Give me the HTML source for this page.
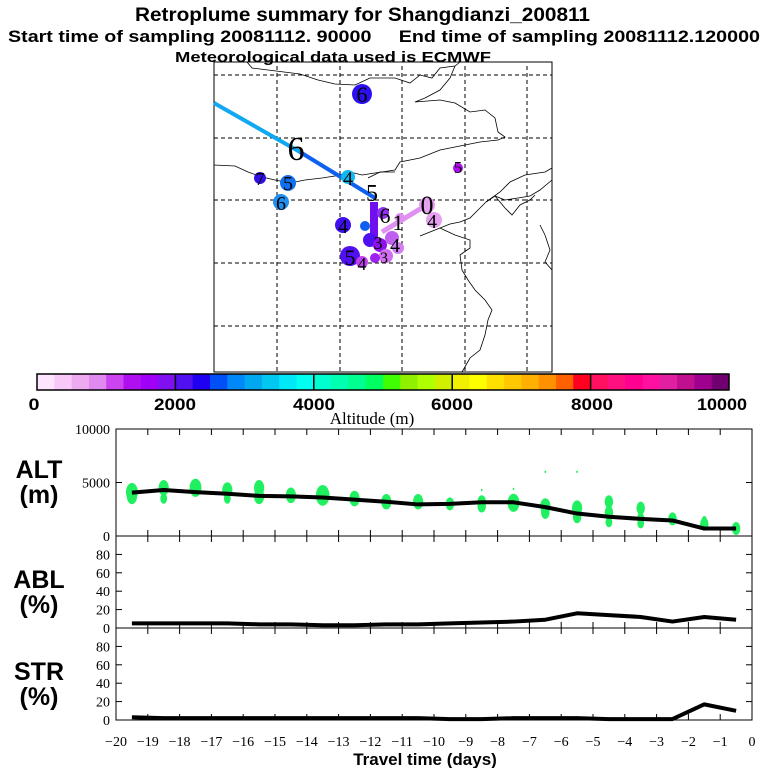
<!DOCTYPE html>
<html><head><meta charset="utf-8"><style>
html,body{margin:0;padding:0;background:#fff;width:768px;height:768px;overflow:hidden}
svg text{font-family:"Liberation Sans",sans-serif}
svg text.serif{font-family:"Liberation Serif",serif}
</style></head><body>
<svg id="chart" width="768" height="768" viewBox="0 0 768 768" xmlns="http://www.w3.org/2000/svg">
<g font-weight="bold" fill="#000">
<text x="135" y="21" font-size="19" textLength="455" lengthAdjust="spacingAndGlyphs">Retroplume summary for Shangdianzi_200811</text>
<text x="8" y="42" font-size="17" textLength="752" lengthAdjust="spacingAndGlyphs" xml:space="preserve">Start time of sampling 20081112. 90000     End time of sampling 20081112.120000</text>
<text x="175" y="62" font-size="15" textLength="316" lengthAdjust="spacingAndGlyphs">Meteorological data used is ECMWF</text>
</g>
<g id="map">
<rect x="214" y="62" width="338" height="310" fill="none" stroke="#000" stroke-width="1"/>
<g stroke="#000" stroke-dasharray="4,3" stroke-width="1">
<line x1="277" y1="66" x2="277" y2="372"/><line x1="340" y1="66" x2="340" y2="372"/><line x1="402" y1="66" x2="402" y2="372"/><line x1="465" y1="66" x2="465" y2="372"/><line x1="527" y1="66" x2="527" y2="372"/>
<line x1="214" y1="75" x2="552" y2="75"/><line x1="214" y1="138" x2="552" y2="138"/><line x1="214" y1="200" x2="552" y2="200"/><line x1="214" y1="263" x2="552" y2="263"/><line x1="214" y1="326" x2="552" y2="326"/>
</g>
<g fill="none" stroke="#000" stroke-width="0.8">
<path d="M247,62 L252,68 L268,70 L300,74 L318,80 L335,84 L355,85 L370,78 L395,78 L410,83 L420,75 L432,78 L440,68 L455,66 L460,62"/>
<path d="M455,66 L450,78 L440,90 L425,98 L415,102 L440,100 L455,103 L470,112 L485,110 L495,118 L498,132 L505,137 L498,140 L480,142 L465,145 L440,150 L420,158 L400,162 L395,170 L375,173 L362,175 L350,172 L335,176 L322,178 L305,180 L290,183 L275,180 L262,177 L248,172 L235,166 L214,165"/>
<path d="M395,172 L380,172 L368,178"/>
<path d="M552,180 L540,190 L530,196 L518,198 L505,200 L495,196 L486,202 L478,210 L470,218 L460,222 L450,224 L440,228 L455,235 L470,240 L470,248 L460,255 L462,270 L468,280 L475,290 L485,300 L492,310 L488,320 L485,335 L480,350 L470,358 L462,372"/>
<path d="M486,202 L500,192 L510,182 L525,175 L545,172 L552,168"/>
<path d="M495,196 L505,208 L512,215 L520,205 L530,200 L535,195"/>
<path d="M540,225 L545,235 L550,250 L545,262 L552,270"/>
<path d="M440,228 L430,232 L420,236"/>
</g>
<line x1="214" y1="103" x2="300" y2="152" stroke="#10a8f0" stroke-width="4"/>
<line x1="300" y1="152" x2="375" y2="198" stroke="#1060f0" stroke-width="4"/>
<line x1="382" y1="232" x2="425" y2="206" stroke="#e090f0" stroke-width="5"/>
<g text-anchor="middle">
<circle cx="362" cy="94" r="10" fill="#2a10f0"/><text class="serif" x="362" y="102" font-size="22">6</text>
<text class="serif" x="296" y="160" font-size="34">6</text>
<circle cx="260" cy="178" r="6" fill="#3010e0"/><text class="serif" x="260" y="185" font-size="18">7</text>
<circle cx="288" cy="183" r="8" fill="#1070f0"/><text class="serif" x="288" y="190" font-size="20">5</text>
<circle cx="281" cy="202" r="8" fill="#2090f0"/><text class="serif" x="281" y="210" font-size="20">6</text>
<circle cx="348" cy="177" r="7" fill="#10b8f0"/><text class="serif" x="348" y="185" font-size="20">4</text>
<circle cx="458" cy="168" r="5" fill="#b010f0"/><text class="serif" x="458" y="173" font-size="17">5</text>
<circle cx="343" cy="225" r="8" fill="#4010f0"/><text class="serif" x="343" y="233" font-size="20">4</text>
<circle cx="350" cy="256" r="10" fill="#5010f0"/><text class="serif" x="350" y="265" font-size="22">5</text>
<circle cx="362" cy="262" r="6" fill="#c040f0"/><text class="serif" x="362" y="270" font-size="18">4</text>
<rect x="370" y="202" width="8" height="40" fill="#7010f0"/>
<circle cx="383" cy="213" r="6" fill="#9030f0"/>
<circle cx="365" cy="226" r="5" fill="#1060f0"/>
<circle cx="370" cy="240" r="7" fill="#5010f0"/>
<circle cx="380" cy="245" r="7" fill="#9010f0"/>
<circle cx="392" cy="238" r="7" fill="#c060f0"/>
<circle cx="398" cy="248" r="6" fill="#d080f0"/>
<circle cx="386" cy="256" r="7" fill="#d070f0"/>
<circle cx="375" cy="258" r="5" fill="#a020f0"/>
<circle cx="400" cy="218" r="5" fill="#e090f0"/>
<circle cx="427" cy="205" r="8" fill="#e6a0f0"/>
<circle cx="434" cy="220" r="8" fill="#e6a0f0"/>
<text class="serif" x="372" y="201" font-size="24">5</text>
<text class="serif" x="385" y="223" font-size="22">6</text>
<text class="serif" x="398" y="230" font-size="22">1</text>
<text class="serif" x="378" y="249" font-size="18">3</text>
<text class="serif" x="395" y="252" font-size="20">4</text>
<text class="serif" x="384" y="263" font-size="16">3</text>
<text class="serif" x="427" y="214" font-size="26">0</text>
<text class="serif" x="432" y="228" font-size="20">4</text>
</g>
</g>
<g id="colorbar"></g>
<g font-weight="bold" font-size="17" text-anchor="middle">
<text x="34" y="410" textLength="11" lengthAdjust="spacingAndGlyphs">0</text><text x="175" y="410" textLength="42" lengthAdjust="spacingAndGlyphs">2000</text><text x="314" y="410" textLength="42" lengthAdjust="spacingAndGlyphs">4000</text><text x="452" y="410" textLength="42" lengthAdjust="spacingAndGlyphs">6000</text><text x="592" y="410" textLength="42" lengthAdjust="spacingAndGlyphs">8000</text><text x="722" y="410" textLength="50" lengthAdjust="spacingAndGlyphs">10000</text>
</g>
<text class="serif" x="372" y="424" font-size="17" text-anchor="middle">Altitude (m)</text>
<g id="panels"></g>
<g font-weight="bold" font-size="25" text-anchor="middle">
<text x="39" y="478">ALT</text><text x="39" y="503">(m)</text>
<text x="39" y="588">ABL</text><text x="39" y="613">(%)</text>
<text x="39" y="680">STR</text><text x="39" y="705">(%)</text>
</g>
<text x="425" y="765" font-weight="bold" font-size="17" text-anchor="middle">Travel time (days)</text>
</svg>
<script>
const cbColors = ["#fde6fd","#f8c8f8","#eeaaf0","#e08af0","#cc44f0","#b010f0","#a000f8","#8010f0",
"#5010f0","#2000f0","#0050f8","#0088f8","#00a8f0","#00c8f0","#00e8f8","#00fff0",
"#00ffd0","#00ffb0","#00ff90","#00ff60","#40ff00","#90f000","#b0ff00","#d0f000",
"#f0f000","#ffff00","#ffe000","#ffc800","#ffb000","#ff9000","#ff6000","#ff0020",
"#ff1060","#ff1080","#ff0090","#ff10a0","#e020a0","#c01090","#a00090","#700070"];
const days = [-19.5,-18.5,-17.5,-16.5,-15.5,-14.5,-13.5,-12.5,-11.5,-10.5,-9.5,-8.5,-7.5,-6.5,-5.5,-4.5,-3.5,-2.5,-1.5,-0.5];
const altValues = [4050,4300,4100,3950,3750,3700,3600,3400,3200,2950,3000,3150,3150,2700,2100,1800,1600,1450,700,700];
const ablValues = [5,5,5,5,4,4,3,3,4,4,5,6,7,9,16,14,12,7,12,9];
const strValues = [3,2,2,2,2,2,2,2,2,2,1,1,2,2,2,1,1,1,17,10];
const blobDays = [-19.5,-19.5,-18.5,-18.5,-17.5,-16.5,-16.5,-15.5,-15.5,-14.5,-13.5,-12.5,-11.5,-10.5,-9.5,-8.5,-8.5,-7.5,-6.5,-6.5,-6.5,-5.5,-5.5,-5.5,-4.5,-4.5,-4.5,-3.5,-3.5,-3.5,-2.5,-1.5,-1.5,-0.5,-8.5,-7.5];
const blobValues = [4100,3700,4500,3500,4500,4300,3500,4500,3700,3800,3800,3500,3200,3200,3000,3200,2800,3100,2800,2200,6000,2600,1800,6000,3200,2200,1300,2600,1700,1200,1600,1100,1500,700,4300,4400];
const blobSizes = [7,6,6,4,7,6,4,6,6,6,8,6,6,6,5,5,5,7,6,5,1,6,5,1,5,5,4,5,4,4,5,5,3,5,1,1];
const xTicks = [-20,-19,-18,-17,-16,-15,-14,-13,-12,-11,-10,-9,-8,-7,-6,-5,-4,-3,-2,-1,0];
const altTicks = [0,5000,10000];
const pctTicks = [0,20,40,60,80];

const NS="http://www.w3.org/2000/svg";
function mk(tag,attrs,parent){const e=document.createElementNS(NS,tag);for(const k in attrs)e.setAttribute(k,attrs[k]);parent.appendChild(e);return e;}
const cb=document.getElementById('colorbar');
const cbX0=37,cbX1=729,cbW=(cbX1-cbX0)/cbColors.length;
cbColors.forEach((c,i)=>{const r=mk('rect',{x:cbX0+i*cbW,y:374,width:cbW+0.5,height:16,fill:c},cb);

});
const cbo=mk('rect',{x:cbX0,y:374,width:cbX1-cbX0,height:16,fill:'none',stroke:'#000','stroke-width':1.5},cb);


for(let k=1;k<5;k++){const l=mk('line',{x1:cbX0+k*8*cbW,x2:cbX0+k*8*cbW,y1:374,y2:390,stroke:'#000','stroke-width':1.5},cb);

}

const X0=116,X1=752;
const xs=d=>X0+(d+20)/20*(X1-X0);
const P=document.getElementById('panels');
const panels=[{top:429,bot:536,max:10000,ticks:altTicks,vals:altValues,name:'alt'},
{top:536,bot:628,max:100,ticks:pctTicks,vals:ablValues,name:'abl'},
{top:628,bot:720,max:100,ticks:pctTicks,vals:strValues,name:'str'}];
panels.forEach(p=>{
 const g=mk('g',{},P);
 
 
 const ys=v=>p.bot-v/p.max*(p.bot-p.top);
 const fr=mk('rect',{x:X0,y:p.top,width:X1-X0,height:p.bot-p.top,fill:'none',stroke:'#000','stroke-width':1},g);
 
 
 xTicks.forEach(t=>{const x=xs(t);
  mk('line',{x1:x,x2:x,y1:p.top,y2:p.top+6,stroke:'#000'},g);
  mk('line',{x1:x,x2:x,y1:p.bot,y2:p.bot-6,stroke:'#000'},g);});
 p.ticks.forEach(t=>{const y=ys(t);
  mk('line',{x1:X0,x2:X0+6,y1:y,y2:y,stroke:'#000'},g);
  mk('line',{x1:X1,x2:X1-6,y1:y,y2:y,stroke:'#000'},g);
  const tx=mk('text',{x:X0-6,y:y+5,'text-anchor':'end','font-size':14,'class':'serif'},g);
  tx.textContent=t;
  
  });
 if(p.name==='alt'){
  blobDays.forEach((d,i)=>{const b=mk('ellipse',{cx:xs(d),cy:ys(blobValues[i]),rx:blobSizes[i]*0.85,ry:blobSizes[i]*1.3,fill:'#20f060'},g);
   
   });
 }
 const pts=days.map((d,i)=>xs(d)+','+ys(p.vals[i])).join(' ');
 const pl=mk('polyline',{points:pts,fill:'none',stroke:'#000','stroke-width':4,'stroke-linejoin':'round'},g);
 
 
});
const xl=mk('g',{},P);


xTicks.forEach(t=>{const tx=mk('text',{x:xs(t),y:746,'text-anchor':'middle','font-size':14,'class':'serif'},xl);
 tx.textContent=t===0?'0':'\u2212'+Math.abs(t);
 
 });
</script>
</body></html>
